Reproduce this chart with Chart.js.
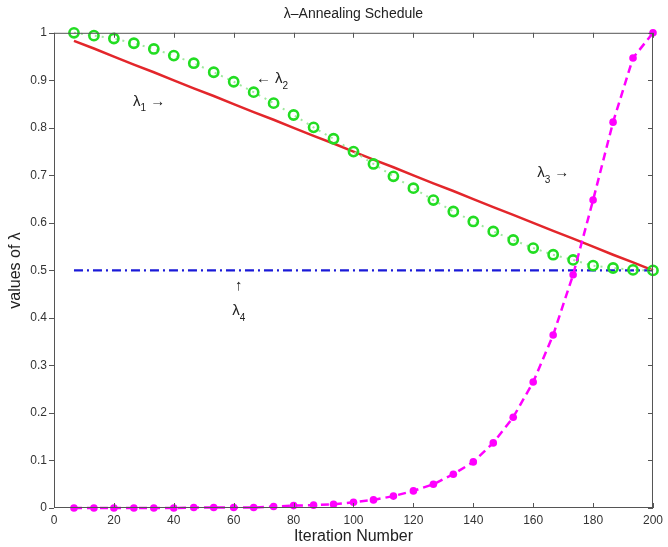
<!DOCTYPE html>
<html>
<head>
<meta charset="utf-8">
<script src="https://cdn.jsdelivr.net/npm/chart.js@4"></script>
<style>
html,body{margin:0;padding:0;background:#fff;}
#wrap{width:668px;height:547px;position:relative;}
</style>
</head>
<body>
<div id="wrap"><canvas id="c" width="668" height="547"></canvas></div>
<script>
const iterations = [6.67, 13.33, 20, 26.67, 33.33, 40, 46.67, 53.33, 60, 66.67, 73.33, 80, 86.67, 93.33, 100, 106.67, 113.33, 120, 126.67, 133.33, 140, 146.67, 153.33, 160, 166.67, 173.33, 180, 186.67, 193.33, 200];
const lambda1 = [0.983, 0.967, 0.95, 0.933, 0.917, 0.9, 0.883, 0.867, 0.85, 0.833, 0.817, 0.8, 0.783, 0.767, 0.75, 0.733, 0.717, 0.7, 0.683, 0.667, 0.65, 0.633, 0.617, 0.6, 0.583, 0.567, 0.55, 0.533, 0.517, 0.5];
const lambda2 = [1.0, 0.994, 0.988, 0.978, 0.966, 0.952, 0.936, 0.917, 0.897, 0.875, 0.852, 0.827, 0.801, 0.777, 0.75, 0.724, 0.698, 0.673, 0.648, 0.624, 0.603, 0.582, 0.564, 0.547, 0.533, 0.522, 0.51, 0.505, 0.501, 0.5];
const lambda3 = [0, 0, 0, 0, 0, 0, 0.001, 0.001, 0.001, 0.001, 0.003, 0.005, 0.006, 0.008, 0.012, 0.017, 0.025, 0.036, 0.05, 0.071, 0.097, 0.137, 0.191, 0.265, 0.364, 0.491, 0.648, 0.812, 0.947, 1.0];
const lambda4 = [0.5, 0.5, 0.5, 0.5, 0.5, 0.5, 0.5, 0.5, 0.5, 0.5, 0.5, 0.5, 0.5, 0.5, 0.5, 0.5, 0.5, 0.5, 0.5, 0.5, 0.5, 0.5, 0.5, 0.5, 0.5, 0.5, 0.5, 0.5, 0.5, 0.5];
const xTicks = [0, 20, 40, 60, 80, 100, 120, 140, 160, 180, 200];
const yTicks = [0, 0.1, 0.2, 0.3, 0.4, 0.5, 0.6, 0.7, 0.8, 0.9, 1];
const titleText = 'λ–Annealing Schedule';
const xTitle = 'Iteration Number';
const yTitle = 'values of λ';
// annotation labels (data coordinates)
const notes = [
  {x: 31.8, y: 0.855, parts: [['λ', 'main'], ['1', 'sub'], [' →', 'main']]},
  {x: 72.8, y: 0.903, parts: [['← ', 'main'], ['λ', 'main'], ['2', 'sub']]},
  {x: 166.7, y: 0.705, parts: [['λ', 'main'], ['3', 'sub'], [' →', 'main']]},
  {x: 61.7, y: 0.467, parts: [['↑', 'main']]},
  {x: 61.7, y: 0.415, parts: [['λ', 'main'], ['4', 'sub']]}
];

const toXY = arr => arr.map((v, i) => ({x: iterations[i], y: v}));
const FONT = '"Liberation Sans", Arial, Helvetica, sans-serif';
const AX = '#555';

const framePlugin = {
  id: 'frame',
  afterDatasetsDraw(chart) {
    const {ctx, chartArea: a, scales: {x, y}} = chart;
    ctx.save();
    ctx.strokeStyle = AX;
    ctx.lineWidth = 1;
    ctx.strokeRect(a.left + 0.5, a.top + 0.5, a.right - a.left - 1, a.bottom - a.top - 1);
    ctx.beginPath();
    xTicks.forEach(t => {
      const px = Math.round(x.getPixelForValue(t)) + 0.5;
      ctx.moveTo(px, a.bottom); ctx.lineTo(px, a.bottom - 5);
      ctx.moveTo(px, a.top); ctx.lineTo(px, a.top + 5);
    });
    yTicks.forEach(t => {
      const py = Math.round(y.getPixelForValue(t)) + 0.5;
      ctx.moveTo(a.left, py); ctx.lineTo(a.left - 5, py);
      ctx.moveTo(a.right, py); ctx.lineTo(a.right - 5, py);
    });
    ctx.stroke();
    ctx.restore();
  },
  afterDraw(chart) {
    const {ctx, scales: {x, y}} = chart;
    ctx.save();
    ctx.fillStyle = '#222';
    ctx.textBaseline = 'middle';
    notes.forEach(n => {
      let w = 0;
      n.parts.forEach(([t, k]) => {
        ctx.font = (k === 'sub' ? '10px ' : '15px ') + FONT;
        w += ctx.measureText(t).width;
      });
      let px = x.getPixelForValue(n.x) - w / 2;
      const py = y.getPixelForValue(n.y);
      n.parts.forEach(([t, k]) => {
        ctx.font = (k === 'sub' ? '10px ' : '15px ') + FONT;
        ctx.textAlign = 'left';
        ctx.fillText(t, px, k === 'sub' ? py + 7 : py);
        px += ctx.measureText(t).width;
      });
    });
    ctx.restore();
  }
};

new Chart(document.getElementById('c'), {
  type: 'line',
  data: {
    datasets: [
      {
        label: 'λ3', data: toXY(lambda3), order: 1, clip: false,
        borderColor: '#ff00ff', borderWidth: 2.5, borderDash: [8, 5],
        pointRadius: 3.8, pointBackgroundColor: '#ff00ff', pointBorderColor: '#ff00ff', pointBorderWidth: 0
      },
      {
        label: 'λ2', data: toXY(lambda2), order: 2, clip: false,
        borderColor: '#9fe89f', borderWidth: 2, borderDash: [2, 5],
        pointRadius: 4.6, pointBorderWidth: 2.6, pointBorderColor: '#22dd22', pointBackgroundColor: 'rgba(0,0,0,0)'
      },
      {
        label: 'λ1', data: toXY(lambda1), order: 3, clip: false,
        borderColor: '#e3262b', borderWidth: 2.5, pointRadius: 0
      },
      {
        label: 'λ4', data: toXY(lambda4), order: 4, clip: false,
        borderColor: '#1a1ad8', borderWidth: 2.2, borderDash: [9, 4, 2, 4], pointRadius: 0
      }
    ]
  },
  options: {
    responsive: false,
    animation: false,
    events: [],
    layout: {padding: {left: 0, right: 11, top: 0, bottom: 0}},
    plugins: {
      legend: {display: false},
      tooltip: {enabled: false},
      title: {
        display: true, text: titleText, fullSize: false, color: '#222',
        font: {family: FONT, size: 14, weight: 'normal'},
        padding: {top: 6, bottom: 10}
      }
    },
    elements: {line: {tension: 0}},
    scales: {
      x: {
        type: 'linear', min: 0, max: 200,
        afterFit: s => { s.height = 39; },
        afterBuildTicks: s => { s.ticks = xTicks.map(v => ({value: v})); },
        grid: {display: false, drawTicks: false},
        border: {display: false},
        ticks: {color: '#333', padding: 5, maxRotation: 0, autoSkip: false, font: {family: FONT, size: 12}},
        title: {display: true, text: xTitle, color: '#222', font: {family: FONT, size: 16}, padding: {top: 0, bottom: 1}}
      },
      y: {
        type: 'linear', min: 0, max: 1,
        afterFit: s => { s.width = 54; },
        afterBuildTicks: s => { s.ticks = yTicks.map(v => ({value: v})); },
        grid: {display: false, drawTicks: false},
        border: {display: false},
        ticks: {color: '#333', padding: 7, autoSkip: false, font: {family: FONT, size: 12},
          callback: v => String(+v.toFixed(1))},
        title: {display: true, text: yTitle, color: '#222', font: {family: FONT, size: 16}, padding: {top: 6, bottom: 0}}
      }
    }
  },
  plugins: [framePlugin]
});
</script>
</body>
</html>
